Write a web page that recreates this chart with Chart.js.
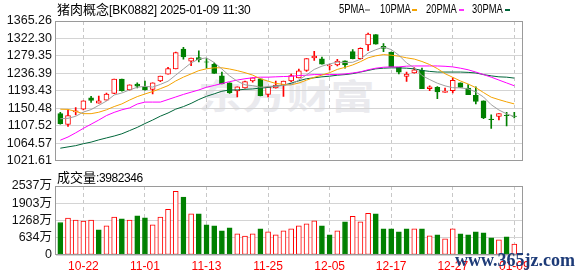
<!DOCTYPE html>
<html>
<head>
<meta charset="utf-8">
<script src="https://cdn.jsdelivr.net/npm/chart.js@4.4.1/dist/chart.umd.min.js"></script>
<style>
  body { margin: 0; background: #fff; width: 578px; height: 276px; overflow: hidden; position: relative;
         font-family: 'Liberation Sans', 'Noto Sans CJK SC', sans-serif; }
  #boxMain { position: absolute; left: 0; top: 0; width: 578px; height: 172px; z-index: 1; }
  #boxVol { position: absolute; left: 0; top: 172px; width: 578px; height: 104px; z-index: 1; }
  .t { position: absolute; white-space: nowrap; color: #000; font-size: 12px; line-height: 14px; letter-spacing: -0.4px; z-index: 2; }
  .t .cn { font-family: 'Noto Sans CJK SC', sans-serif; font-size: 13px; letter-spacing: 0; }
  .title { font-size: 12px; letter-spacing: -0.2px; }
  .lg { position: absolute; white-space: nowrap; color: #000; font-size: 12px; line-height: 14px;
        transform: scaleX(0.78); transform-origin: left top; z-index: 2; }
  .mk { position: absolute; width: 5px; height: 2px; z-index: 2; }
  #wm { position: absolute; left: 198px; top: 70px; font: 700 34px 'Noto Sans CJK SC', sans-serif; color: #eaeaee;
        transform: scaleX(1.3); transform-origin: left top; z-index: 0; letter-spacing: 0; }
  #wm2 { position: absolute; left: 455px; top: 250px; font: 700 18px 'Liberation Serif', serif; color: #1d3b78; z-index: 3; }
</style>
</head>
<body>
<div id="wm">东方财富</div>
<div class="t title" style="left:57px;top:2px"><span class="cn">猪肉概念</span>[BK0882] 2025-01-09 11:30</div>
<div class="lg" style="left:339px;top:2px">5PMA</div><div class="mk" style="left:365px;top:9px;background:#a0a0a0"></div>
<div class="lg" style="left:380px;top:2px">10PMA</div><div class="mk" style="left:412px;top:9px;background:#f5a300"></div>
<div class="lg" style="left:426px;top:2px">20PMA</div><div class="mk" style="left:459px;top:9px;background:#ff33ff"></div>
<div class="lg" style="left:472px;top:2px">30PMA</div><div class="mk" style="left:505px;top:9px;background:#00663a"></div>
<div class="t" style="left:57px;top:170px"><span class="cn">成交量</span>:3982346</div>
<div id="boxMain"><canvas id="kline"></canvas></div>
<div id="boxVol"><canvas id="vol"></canvas></div>
<div id="wm2">www.365jz.com</div>
<script>
// trading days shown in the window
const dates = [
  '10-17','10-18','10-21','10-22','10-23','10-24','10-25','10-28','10-29','10-30',
  '10-31','11-01','11-04','11-05','11-06','11-07','11-08','11-11','11-12','11-13',
  '11-14','11-15','11-18','11-19','11-20','11-21','11-22','11-25','11-26','11-27',
  '11-28','11-29','12-02','12-03','12-04','12-05','12-06','12-09','12-10','12-11',
  '12-12','12-13','12-16','12-17','12-18','12-19','12-20','12-23','12-24','12-25',
  '12-26','12-27','12-30','12-31','01-02','01-03','01-06','01-07','01-08','01-09'
];
const xTickLabels = ['10-22','11-01','11-13','11-25','12-05','12-17','12-27','01-09'];
const priceTicks = [1021.61, 1064.57, 1107.52, 1150.48, 1193.43, 1236.39, 1279.35, 1322.30, 1365.26];
const volTicks = [0, 634, 1268, 1903, 2537];

// daily candles
const opens = [
  1137.1,1110.3,1141.0,1148.1,1175.7,1163.1,1170.2,1186.7,1222.2,1195.4,
  1209.6,1202.5,1197.0,1217.5,1234.0,1247.4,1296.3,1266.3,1275.0,1264.7,
  1258.5,1230.1,1212.7,1193.0,1200.1,1217.5,1223.0,1184.4,1200.1,1207.2,
  1217.5,1225.3,1243.5,1274.2,1271.8,1254.5,1256.9,1267.1,1290.0,1272.6,
  1306.5,1331.7,1302.6,1288.4,1251.4,1228.5,1237.2,1243.5,1198.5,1201.7,
  1189.1,1193.8,1212.7,1200.1,1182.0,1168.6,1123.6,1130.0,1133.1,1131.2
];
const highs = [
  1140.2,1146.5,1152.0,1168.6,1179.6,1180.4,1187.5,1222.2,1222.2,1208.0,
  1212.7,1217.5,1212.7,1229.3,1251.4,1288.4,1300.2,1274.2,1291.5,1272.6,
  1262.4,1239.5,1212.7,1203.3,1217.5,1225.3,1223.0,1203.3,1217.5,1217.5,
  1234.8,1246.6,1272.6,1290.7,1276.6,1258.4,1271.0,1267.1,1294.7,1299.4,
  1335.7,1331.7,1309.7,1288.4,1251.4,1239.5,1250.6,1249.0,1205.6,1204.0,
  1200.1,1225.3,1212.7,1208.8,1203.3,1168.6,1133.9,1137.0,1140.2,1140.2
];
const lows = [
  1111.0,1105.5,1133.9,1146.5,1164.6,1163.1,1170.2,1186.0,1192.2,1195.0,
  1200.1,1195.0,1185.9,1216.0,1234.0,1247.0,1271.0,1255.3,1264.7,1249.0,
  1236.0,1210.0,1186.7,1178.0,1200.0,1214.3,1181.0,1178.0,1200.0,1179.6,
  1215.9,1225.0,1241.1,1267.9,1259.0,1245.0,1254.5,1249.0,1272.0,1271.0,
  1292.3,1308.0,1290.0,1252.9,1234.8,1216.7,1237.0,1198.5,1193.8,1174.1,
  1189.0,1188.3,1201.7,1183.6,1160.7,1124.4,1100.8,1121.3,1107.1,1126.8
];
const closes = [
  1112.6,1132.3,1144.1,1168.6,1169.4,1168.6,1185.1,1222.2,1193.8,1208.0,
  1204.9,1195.4,1212.7,1229.3,1248.2,1287.6,1276.6,1274.2,1270.3,1263.6,
  1236.4,1210.4,1188.3,1203.3,1215.9,1225.3,1181.2,1203.3,1207.2,1217.5,
  1230.8,1242.7,1272.6,1278.9,1259.2,1256.9,1266.3,1256.9,1272.6,1297.8,
  1333.3,1308.1,1297.8,1252.9,1239.5,1234.8,1245.0,1198.5,1203.3,1190.7,
  1192.2,1219.0,1201.7,1183.6,1167.0,1126.8,1122.1,1137.0,1132.0,1130.5
];

// moving averages
const ma5 = [
  1124.5,1125.5,1130.5,1141.0,1147.0,1157.5,1168.0,1183.0,1188.0,1195.5,
  1202.0,1204.5,1202.5,1209.0,1217.0,1232.0,1247.0,1262.0,1271.5,1274.5,
  1263.0,1247.0,1230.0,1217.0,1208.0,1206.0,1202.0,1203.5,1205.0,1206.5,
  1208.5,1220.0,1232.5,1246.0,1254.0,1259.5,1264.0,1263.0,1263.5,1271.0,
  1286.5,1294.5,1301.0,1295.0,1281.0,1262.0,1250.0,1231.0,1221.0,1212.0,
  1205.5,1201.0,1200.5,1198.0,1190.5,1178.0,1159.0,1146.0,1136.5,1130.0
];
const ma10 = [
  1148.0,1147.5,1142.5,1137.0,1137.0,1140.5,1146.5,1154.5,1161.0,1170.5,
  1179.0,1185.5,1191.5,1198.5,1206.0,1217.5,1227.0,1235.0,1243.0,1247.5,
  1250.0,1250.0,1247.0,1243.0,1238.0,1232.0,1223.0,1217.0,1211.5,1209.0,
  1208.0,1212.5,1219.5,1226.5,1232.0,1238.0,1246.0,1251.0,1257.0,1265.0,
  1274.5,1279.5,1282.5,1281.0,1278.5,1274.5,1271.5,1265.5,1258.0,1248.0,
  1235.5,1226.5,1217.5,1210.0,1201.0,1189.0,1177.5,1171.5,1166.0,1161.0
];
const ma20 = [
  1071.7,1079.5,1089.8,1100.8,1111.1,1121.3,1132.3,1140.2,1146.5,1151.2,
  1160.7,1165.5,1165.5,1165.5,1171.8,1178.1,1184.4,1189.9,1195.4,1202.0,
  1206.5,1211.2,1215.9,1219.8,1223.0,1225.4,1226.9,1226.9,1227.7,1228.5,
  1229.0,1230.9,1231.7,1233.2,1233.2,1233.2,1233.5,1234.8,1237.2,1240.0,
  1245.1,1249.0,1251.4,1252.2,1252.2,1254.0,1254.5,1254.5,1254.5,1254.5,
  1253.7,1252.2,1249.0,1245.1,1239.5,1233.2,1226.9,1219.8,1212.7,1205.7
];
const ma30 = [
  1051.9,1055.1,1058.2,1063.0,1066.9,1072.4,1077.2,1081.9,1087.4,1095.3,
  1103.2,1112.6,1121.3,1130.8,1138.6,1148.1,1154.4,1162.3,1171.8,1179.7,
  1185.9,1192.2,1195.4,1195.4,1197.0,1197.8,1200.1,1201.7,1204.9,1207.2,
  1212.0,1218.0,1223.0,1225.4,1227.7,1229.3,1231.7,1233.2,1235.6,1239.5,
  1243.5,1247.4,1249.0,1249.8,1249.8,1249.0,1247.4,1243.5,1241.1,1239.5,
  1239.5,1239.5,1239.5,1238.7,1237.2,1233.2,1230.1,1227.7,1226.9,1224.6
];

// volume in 万, and bar colour (R = up, G = down) as drawn
const volumes = [
  1194,1353,1280,1243,1280, 926,1072,1390,1329,1280,
  1438,1365,1109,1390,1682,2341,2134,1512,1512,1109,
  1072, 889, 999, 780, 694, 780, 963, 853, 743, 889,
   963,1072,1146,1255,1072, 743, 889,1219,1426,1219,
  1536,1512, 963, 963, 853, 963, 963, 963, 706, 743,
   597, 963, 780, 743, 853, 816, 633, 560, 670, 398
];
const volDir = ('GRRRRGRRGR' + 'GGRRRRGRGG' + 'GGGRRRGRRR' +
                'RRRRGGRGRR' + 'RGGGGGRGRG' + 'RRGGGGGRGR').split('');

const RED = '#ff0000';
const GREEN = '#008000';
const FONT = "'Liberation Sans', 'Noto Sans CJK SC', sans-serif";
const xMin = -0.56, xMax = 60;

Chart.defaults.font.family = FONT;
Chart.defaults.animation = false;

const isUp = i => closes[i] >= opens[i];
const pts = arr => arr.map((v, i) => ({ x: i, y: v }));

// grey frame around a plot
const frame = {
  id: 'frame',
  afterDraw(chart) {
    const a = chart.chartArea, c = chart.ctx;
    c.save();
    c.strokeStyle = '#9a9a9a';
    c.lineWidth = 1;
    c.strokeRect(Math.round(a.left) - 0.5, Math.round(a.top) + 0.5,
                 Math.round(a.right - a.left) + 1, Math.round(a.bottom - a.top) - 1);
    c.restore();
  }
};

function xAxis(showLabels) {
  return {
    type: 'linear', min: xMin, max: xMax, offset: false,
    afterBuildTicks: s => { s.ticks = xTickLabels.map(l => ({ value: dates.indexOf(l) })); },
    afterFit: s => { s.height = showLabels ? 21 : 0; },
    grid: { color: '#c8c8c8', drawTicks: false, offset: false },
    border: { display: false, dash: [4, 3] },
    ticks: {
      display: showLabels, autoSkip: false, maxRotation: 0, padding: 4,
      color: RED, font: { size: 12 },
      callback: v => dates[v]
    }
  };
}

function yAxis(tickList, fmt) {
  return {
    min: tickList[0], max: tickList[tickList.length - 1], beginAtZero: false,
    afterBuildTicks: s => { s.ticks = tickList.map(v => ({ value: v })); },
    afterFit: s => { s.width = 56; },
    grid: { color: '#d4d4d4', drawTicks: false },
    border: { display: false },
    ticks: { color: '#111', padding: 4, autoSkip: false, font: { size: 12.5 }, callback: fmt }
  };
}

function maLine(data, color) {
  return { type: 'line', data: pts(data), borderColor: color, borderWidth: 1,
           pointRadius: 0, tension: 0, order: 1 };
}

new Chart(document.getElementById('kline'), {
  type: 'bar',
  data: {
    datasets: [
      maLine(ma5, '#a0a0a0'),
      maLine(ma10, '#f5a300'),
      maLine(ma20, '#ff00ff'),
      maLine(ma30, '#00663a'),
      {
        data: opens.map((o, i) => ({ x: i, y: [o, closes[i]] })),
        backgroundColor: c => isUp(c.dataIndex) ? '#ffffff' : GREEN,
        borderColor: c => isUp(c.dataIndex) ? RED : GREEN,
        borderWidth: 1, borderSkipped: false, barThickness: 5, grouped: false, order: 2
      },
      {
        data: lows.map((l, i) => ({ x: i, y: [l, highs[i]] })),
        backgroundColor: c => isUp(c.dataIndex) ? RED : GREEN,
        borderWidth: 0, barThickness: 1, grouped: false, order: 3
      }
    ]
  },
  options: {
    responsive: true, maintainAspectRatio: false,
    layout: { padding: { top: 21, right: 56, bottom: 8, left: 0 } },
    plugins: { legend: { display: false }, tooltip: { enabled: false } },
    scales: {
      x: xAxis(false),
      y: yAxis(priceTicks, v => v.toFixed(2))
    }
  },
  plugins: [frame]
});

new Chart(document.getElementById('vol'), {
  type: 'bar',
  data: {
    datasets: [{
      data: pts(volumes),
      backgroundColor: c => volDir[c.dataIndex] === 'R' ? '#ffffff' : GREEN,
      borderColor: c => volDir[c.dataIndex] === 'R' ? RED : GREEN,
      borderWidth: 1, borderSkipped: false, barThickness: 5, grouped: false
    }]
  },
  options: {
    responsive: true, maintainAspectRatio: false,
    layout: { padding: { top: 14, right: 56, bottom: 0, left: 0 } },
    plugins: { legend: { display: false }, tooltip: { enabled: false } },
    scales: {
      x: xAxis(true),
      y: yAxis(volTicks, v => v === 0 ? '0' : v + '万')
    }
  },
  plugins: [frame]
});
</script>
</body>
</html>
